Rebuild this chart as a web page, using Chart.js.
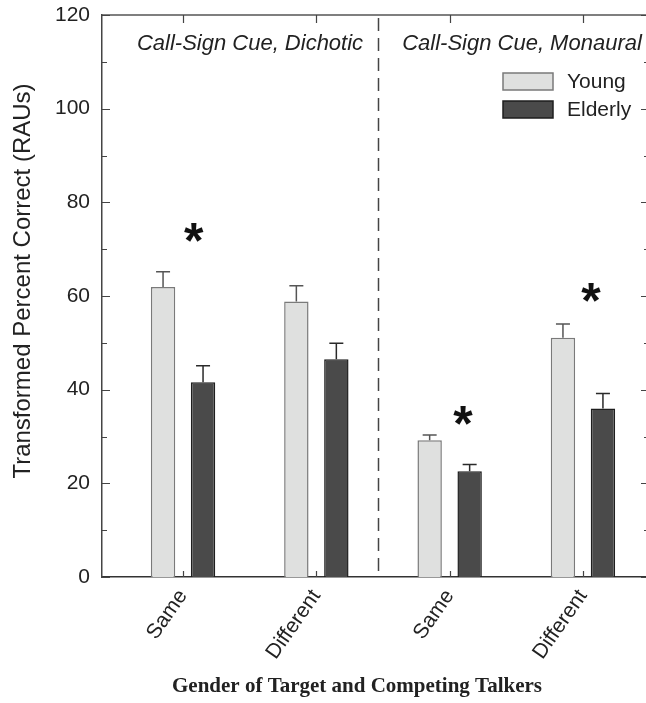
<!DOCTYPE html>
<html lang="en">
<head>
<meta charset="UTF-8">
<title>Transformed Percent Correct</title>
<script src="https://cdn.jsdelivr.net/npm/chart.js"></script>
<style>
  html, body { margin: 0; padding: 0; background: #fff; }
</style>
</head>
<body>
<canvas id="chart" width="646" height="703"></canvas>
<script>
// values
var categories = ['Same', 'Different', 'Same', 'Different'];
var positions = [1, 2, 3, 4];
var young = [61.9, 58.8, 29.2, 51.1];
var youngErr = [65.2, 62.2, 30.3, 54.0];
var elderly = [41.6, 46.5, 22.6, 36.0];
var elderlyErr = [45.1, 49.9, 24.0, 39.2];
var seriesNames = ['Young', 'Elderly'];
var yTicks = [0, 20, 40, 60, 80, 100, 120];
var panelLabels = ['Call-Sign Cue, Dichotic', 'Call-Sign Cue, Monaural'];
var dividerAt = 2.46;
var starX = [1.08, 3.10, 4.06];
var starY = [73.5, 34.4, 60.8];

var font = '"Liberation Sans", Arial, sans-serif';
Chart.defaults.font.family = font;
Chart.defaults.color = '#222';

function pts(vals) {
    return vals.map(function (v, i) { return { x: positions[i], y: v }; });
}

var decorations = {
    id: 'decorations',
    beforeDatasetsDraw: function (chart) {
        var ctx = chart.ctx, sx = chart.scales.x, a = chart.chartArea;
        ctx.save();
        // dashed divider between the two panels
        var dx = Math.round(sx.getPixelForValue(dividerAt)) + 0.5;
        ctx.strokeStyle = '#444';
        ctx.lineWidth = 1.5;
        ctx.setLineDash([13, 7]);
        ctx.beginPath();
        ctx.moveTo(dx, a.top + 3);
        ctx.lineTo(dx, a.bottom);
        ctx.stroke();
        ctx.setLineDash([]);
        ctx.restore();
    },
    afterDatasetsDraw: function (chart) {
        var ctx = chart.ctx, sx = chart.scales.x, sy = chart.scales.y, a = chart.chartArea;
        ctx.save();

        // upper error whiskers
        [[youngErr, 0, '#555'], [elderlyErr, 1, '#2a2a2a']].forEach(function (e) {
            var meta = chart.getDatasetMeta(e[1]);
            ctx.strokeStyle = e[2];
            ctx.lineWidth = 1.5;
            meta.data.forEach(function (bar, i) {
                var top = sy.getPixelForValue(e[0][i]);
                ctx.beginPath();
                ctx.moveTo(bar.x, bar.y);
                ctx.lineTo(bar.x, top);
                ctx.moveTo(bar.x - 7, top);
                ctx.lineTo(bar.x + 7, top);
                ctx.stroke();
            });
        });

        // frame: top line and inward ticks
        ctx.strokeStyle = '#555';
        ctx.lineWidth = 1.5;
        ctx.beginPath();
        ctx.moveTo(a.left, a.top);
        ctx.lineTo(a.right, a.top);
        ctx.stroke();

        ctx.strokeStyle = '#444';
        ctx.lineWidth = 1.2;
        ctx.beginPath();
        var rightEdge = a.right + 3;
        for (var v = 0; v <= 120; v += 10) {
            var py = Math.round(sy.getPixelForValue(v)) + 0.5;
            var len = v % 20 === 0 ? 8 : 5;
            ctx.moveTo(a.left, py);
            ctx.lineTo(a.left + len, py);
            ctx.moveTo(rightEdge, py);
            ctx.lineTo(rightEdge - len, py);
        }
        positions.forEach(function (p) {
            var px = Math.round(sx.getPixelForValue(p)) + 0.5;
            ctx.moveTo(px, a.top);
            ctx.lineTo(px, a.top + 8);
            ctx.moveTo(px, a.bottom);
            ctx.lineTo(px, a.bottom - 6);
        });
        ctx.stroke();

        // significance asterisks
        ctx.fillStyle = '#111';
        ctx.font = 'bold 50px ' + font;
        ctx.textAlign = 'center';
        ctx.textBaseline = 'alphabetic';
        var m = ctx.measureText('*');
        var shift = (m.actualBoundingBoxDescent - m.actualBoundingBoxAscent) / 2;
        starX.forEach(function (xv, i) {
            ctx.fillText('*', sx.getPixelForValue(xv), sy.getPixelForValue(starY[i]) - shift);
        });

        // panel labels
        ctx.font = 'italic 22px ' + font;
        ctx.fillStyle = '#222';
        ctx.textBaseline = 'middle';
        ctx.fillText(panelLabels[0], 250, 44);
        ctx.fillText(panelLabels[1], 522, 44);

        // legend
        ctx.textAlign = 'left';
        ctx.font = '21px ' + font;
        chart.data.datasets.forEach(function (ds, i) {
            var ly = 73 + i * 28;
            ctx.fillStyle = ds.backgroundColor;
            ctx.fillRect(503, ly, 50, 17);
            ctx.strokeStyle = ds.borderColor;
            ctx.lineWidth = 1.5;
            ctx.strokeRect(503, ly, 50, 17);
            ctx.fillStyle = '#222';
            ctx.fillText(ds.label, 567, ly + 9);
        });

        // axis titles
        ctx.textAlign = 'center';
        ctx.font = 'bold 21px "Liberation Serif", "Times New Roman", serif';
        ctx.fillText('Gender of Target and Competing Talkers', 357, 687);
        ctx.save();
        ctx.translate(23, 281);
        ctx.rotate(-Math.PI / 2);
        ctx.font = '24px ' + font;
        ctx.fillText('Transformed Percent Correct (RAUs)', 0, 0);
        ctx.restore();

        ctx.restore();
    }
};

new Chart(document.getElementById('chart'), {
    type: 'bar',
    data: {
        datasets: [{
            label: seriesNames[0],
            data: pts(young),
            backgroundColor: '#dfe0df',
            borderColor: '#7a7a7a',
            borderWidth: 1.5,
            categoryPercentage: 0.6,
            barPercentage: 0.61
        }, {
            label: seriesNames[1],
            data: pts(elderly),
            backgroundColor: '#4a4a4a',
            borderColor: '#1e1e1e',
            borderWidth: 1.5,
            categoryPercentage: 0.6,
            barPercentage: 0.61
        }]
    },
    options: {
        responsive: false,
        animation: false,
        layout: { padding: { top: 15, right: 0, left: 0, bottom: 0 } },
        plugins: {
            legend: { display: false },
            tooltip: { enabled: false }
        },
        scales: {
            x: {
                type: 'linear',
                offset: false,
                min: 0.392,
                max: 4.473,
                grid: { display: false, drawTicks: false, offset: false },
                border: { display: true, color: '#333', width: 1.5 },
                afterBuildTicks: function (s) {
                    s.ticks = positions.map(function (p) { return { value: p }; });
                },
                afterFit: function (s) { s.height = 126; },
                ticks: {
                    autoSkip: false,
                    minRotation: 55,
                    maxRotation: 55,
                    padding: 8,
                    font: { size: 21 },
                    callback: function (v) { return categories[v - 1]; }
                }
            },
            y: {
                min: 0,
                max: 120,
                grid: { display: false, drawTicks: false },
                border: { display: true, color: '#444', width: 1.5 },
                afterBuildTicks: function (s) {
                    s.ticks = yTicks.map(function (t) { return { value: t }; });
                },
                afterFit: function (s) {
                    s.width = 102;
                    s.paddingTop = 10;
                    s.paddingBottom = 10;
                },
                ticks: { padding: 12, font: { size: 21 } }
            }
        }
    },
    plugins: [decorations]
});
</script>
</body>
</html>
